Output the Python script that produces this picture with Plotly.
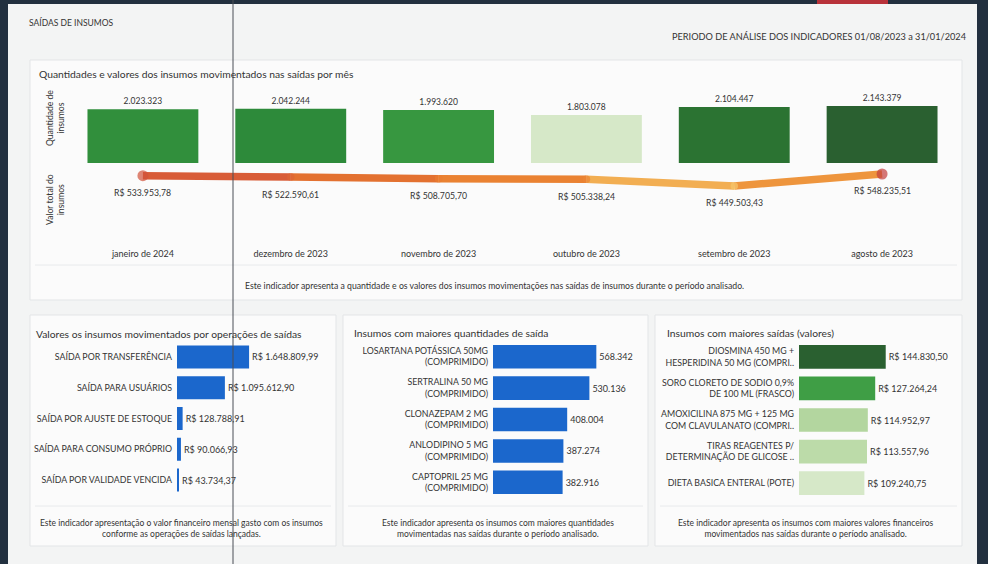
import plotly.graph_objects as go
from plotly.colors import sample_colorscale

# ---------------- data ----------------
months = ["janeiro de 2024", "dezembro de 2023", "novembro de 2023",
          "outubro de 2023", "setembro de 2023", "agosto de 2023"]
qty_month = [2023323, 2042244, 1993620, 1803078, 2104447, 2143379]
val_month = [533953.78, 522590.61, 508705.70, 505338.24, 449503.43, 548235.51]

ops_labels = ["SAÍDA POR TRANSFERÊNCIA", "SAÍDA PARA USUÁRIOS", "SAÍDA POR AJUSTE DE ESTOQUE",
              "SAÍDA PARA CONSUMO PRÓPRIO", "SAÍDA POR VALIDADE VENCIDA"]
ops_values = [1648809.99, 1095612.90, 128788.91, 90066.93, 43734.37]

qty_items = ["LOSARTANA POTÁSSICA 50MG<br>(COMPRIMIDO)", "SERTRALINA 50 MG<br>(COMPRIMIDO)",
             "CLONAZEPAM 2 MG<br>(COMPRIMIDO)", "ANLODIPINO 5 MG<br>(COMPRIMIDO)",
             "CAPTOPRIL 25 MG<br>(COMPRIMIDO)"]
qty_values = [568342, 530136, 408004, 387274, 382916]

val_items = ["DIOSMINA 450 MG +<br>HESPERIDINA 50 MG (COMPRI..",
             "SORO CLORETO DE SODIO 0,9%<br>DE 100 ML (FRASCO)",
             "AMOXICILINA 875 MG + 125 MG<br>COM CLAVULANATO (COMPRI..",
             "TIRAS REAGENTES P/<br>DETERMINAÇÃO DE GLICOSE ..",
             "DIETA BASICA ENTERAL (POTE)"]
val_values = [144830.50, 127264.24, 114952.97, 113557.96, 109240.75]

# ---------------- helpers ----------------
W, H = 988, 564
def px(x): return x / W
def py(y): return 1 - y / H

def br_num(v, dec=0):
    s = f"{v:,.{dec}f}"
    return s.replace(",", "#").replace(".", ",").replace("#", ".")

def norm(vals):
    lo, hi = min(vals), max(vals)
    return [(v - lo) / (hi - lo) for v in vals]

GREENS = [[0, "#d6e8c8"], [0.15, "#b6d8a2"], [0.35, "#76bb66"], [0.52, "#3a9b42"],
          [0.7, "#2d8a3a"], [0.88, "#2b7432"], [1, "#2a6030"]]
WARM = [[0, "#f6c76c"], [0.45, "#f0a043"], [0.62, "#e8792d"], [0.85, "#d3533a"], [1, "#c33d3d"]]

FONT = "Lato, 'Open Sans', sans-serif"
TXT = "#333333"
BLUE = "#1b67cc"

fig = go.Figure()

# ---------------- top chart: bars ----------------
fig.add_trace(go.Bar(
    x=months, y=qty_month, xaxis="x", yaxis="y",
    marker=dict(color=sample_colorscale(GREENS, norm(qty_month)), line=dict(width=0)),
    text=[br_num(v) for v in qty_month], textposition="outside",
    textfont=dict(size=8.5, color=TXT, family=FONT), cliponaxis=False,
    hoverinfo="skip", showlegend=False))

# line (gradient by segments)
nv = norm(val_month)
for i in range(len(months) - 1):
    c = sample_colorscale(WARM, [(nv[i] + nv[i + 1]) / 2])[0]
    fig.add_trace(go.Scatter(
        x=months[i:i + 2], y=val_month[i:i + 2], xaxis="x", yaxis="y2",
        mode="lines", line=dict(color=c, width=7.5), hoverinfo="skip", showlegend=False))
sizes = [11 if i in (0, len(months) - 1) else 7.5 for i in range(len(months))]
fig.add_trace(go.Scatter(
    x=months, y=val_month, xaxis="x", yaxis="y2", mode="markers",
    marker=dict(color=sample_colorscale(WARM, nv), size=sizes, line=dict(width=0)),
    cliponaxis=False, hoverinfo="skip", showlegend=False))

annotations = []
for m, v in zip(months, val_month):
    annotations.append(dict(x=m, y=v, xref="x", yref="y2", yshift=-17, showarrow=False,
                            text="R$ " + br_num(v, 2),
                            font=dict(size=8.7, color=TXT, family=FONT)))

# ---------------- bottom charts ----------------
def hbar(labels, values, xa, ya, colors, fmt):
    fig.add_trace(go.Bar(
        y=labels, x=values, orientation="h", xaxis=xa, yaxis=ya,
        marker=dict(color=colors, line=dict(width=0)),
        text=[fmt(v) for v in values], textposition="outside",
        textfont=dict(size=9, color=TXT, family=FONT), cliponaxis=False,
        hoverinfo="skip", showlegend=False))

hbar(ops_labels, ops_values, "x2", "y3", BLUE, lambda v: "R$ " + br_num(v, 2))
hbar(qty_items, qty_values, "x3", "y4", BLUE, lambda v: br_num(v))
hbar(val_items, val_values, "x4", "y5", sample_colorscale(GREENS, norm(val_values)),
     lambda v: "R$ " + br_num(v, 2))

# ---------------- layout ----------------
hidden = dict(showgrid=False, zeroline=False, showticklabels=False, showline=False, ticks="")

def hx(d0, d1, rng, anchor):
    return dict(domain=[px(d0), px(d1)], range=rng, anchor=anchor, **hidden)

def hy(t, b, anchor):
    return dict(domain=[py(b), py(t)], anchor=anchor, autorange="reversed", type="category",
                showgrid=False, zeroline=False, showline=False, ticks="",
                tickfont=dict(size=8.8, color=TXT, family=FONT), ticklabelstandoff=4)

# static text
def ann(x, y, text, size, xanchor="left", angle=0, color=TXT):
    annotations.append(dict(x=px(x), y=py(y), xref="paper", yref="paper", text=text,
                            showarrow=False, xanchor=xanchor, yanchor="middle",
                            textangle=angle, font=dict(size=size, color=color, family=FONT)))

ann(27, 23, "SAÍDAS DE INSUMOS", 8.5)
ann(969, 37, "PERIODO DE ANÁLISE DOS INDICADORES 01/08/2023 a 31/01/2024", 9.2, "right")
ann(37, 74, "Quantidades e valores dos insumos movimentados nas saídas por mês", 10.3)
ann(55, 118, "Quantidade de<br>insumos", 8.6, "center", -90)
ann(55, 200, "Valor total do<br>insumos", 8.6, "center", -90)
ann(494, 285, "Este indicador apresenta a quantidade e os valores dos insumos movimentações nas saídas de insumos durante o período analisado.", 8.7, "center")

ann(34, 334, "Valores os insumos movimentados por operações de saídas", 10.3)
ann(352, 333, "Insumos com maiores quantidades de saída", 10.3)
ann(665, 333, "Insumos com maiores saídas (valores)", 10.3)

ann(181, 528, "Este indicador apresentação o valor financeiro mensal gasto com os insumos<br>conforme as operações de saídas lançadas.", 8.5, "center")
ann(498, 528, "Este indicador apresenta os insumos com maiores quantidades<br>movimentadas nas saídas durante o período analisado.", 8.5, "center")
ann(806, 528, "Este indicador apresenta os insumos com maiores valores financeiros<br>movimentados nas saídas durante o período analisado.", 8.5, "center")

shapes = [
    dict(type="rect", xref="paper", yref="paper", x0=px(8), x1=px(977), y0=0, y1=py(4),
         fillcolor="#f3f4f4", line=dict(width=0), layer="below"),
    dict(type="rect", xref="paper", yref="paper", x0=px(817), x1=px(888), y0=py(4), y1=1,
         fillcolor="#b8323a", line=dict(width=0), layer="below"),
]
cards = [(30, 60, 962, 300, 265), (30, 315, 336, 546, 506),
         (343, 315, 648, 546, 506), (655, 315, 962, 546, 506)]
for x0, y0, x1, y1, sep in cards:
    shapes.append(dict(type="rect", xref="paper", yref="paper", x0=px(x0), x1=px(x1),
                       y0=py(y1), y1=py(y0), fillcolor="#fbfbfb",
                       line=dict(color="#e3e5e7", width=1), layer="below"))
    shapes.append(dict(type="line", xref="paper", yref="paper", x0=px(x0 + 5), x1=px(x1 - 5),
                       y0=py(sep), y1=py(sep), line=dict(color="#e8eaec", width=1), layer="below"))
shapes.append(dict(type="line", xref="paper", yref="paper", x0=px(233), x1=px(233),
                   y0=0, y1=1, line=dict(color="#4a4f57", width=1)))

fig.update_layout(
    width=W, height=H, margin=dict(l=0, r=0, t=0, b=0),
    paper_bgcolor="#22303f", plot_bgcolor="rgba(0,0,0,0)",
    font=dict(family=FONT, color=TXT),
    bargap=0.25, showlegend=False,
    xaxis=dict(domain=[px(69), px(956)], type="category", anchor="free", position=py(247),
               showgrid=False, zeroline=False, showline=False, ticks="",
               tickfont=dict(size=9, color=TXT, family=FONT)),
    yaxis=dict(domain=[py(163), py(95)], range=[0, max(qty_month) * 68 / 57], anchor="x", **hidden),
    yaxis2=dict(domain=[py(192), py(167.7)], range=[400000, 600000], anchor="x", **hidden),
    xaxis2=hx(177, 330, [0, 3.5e6], "y3"),
    yaxis3=hy(341.6, 495.4, "x2"),
    xaxis3=hx(493, 645, [0, 836000], "y4"),
    yaxis4=hy(341, 498, "x3"),
    xaxis4=hx(799, 960, [0, 268870], "y5"),
    yaxis5=hy(341, 499, "x4"),
    annotations=annotations, shapes=shapes,
)

fig.write_html("out.html", config={"displayModeBar": False},
               post_script="document.body.style.margin='0';document.body.style.overflow='hidden';")
